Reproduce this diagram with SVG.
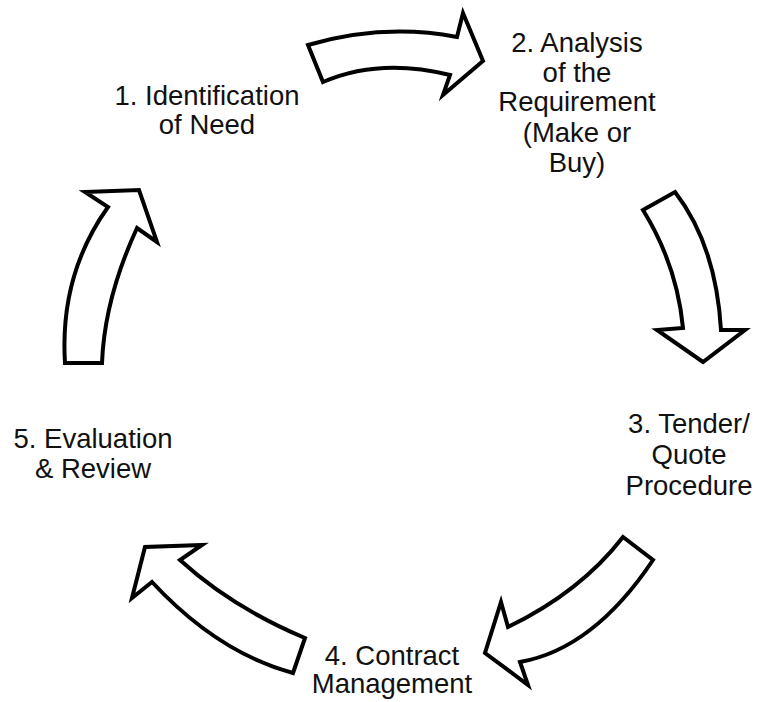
<svg xmlns="http://www.w3.org/2000/svg" width="760" height="702" viewBox="0 0 760 702">
  <style>
    .label { font-family: "Liberation Sans", Arial, sans-serif; font-size: 27.5px; fill: #111; text-anchor: middle; }
    .arrow { fill: #fff; stroke: #000; stroke-width: 4; stroke-linejoin: miter; stroke-miterlimit: 10; }
  </style>
  <rect width="760" height="702" fill="#fff"/>

  <!-- curved block arrows between the stages -->
  <g id="connectors">
    <path class="arrow" d="M308,45 Q383.5,23 457,37 L463,13 L483,61 L443,95 L450,75 Q379.5,57.5 323,82 Z"/>
    <path class="arrow" d="M675,192 Q716,245 721,330 L745,330 L703,362 L657,330 L683,328 Q677,265 643,210 Z"/>
    <path class="arrow" d="M623,537 Q580.5,592 508,627 L501,602 L485,653 L528,685 L520,662 Q593.5,649 653,560 Z"/>
    <path class="arrow" d="M305,638 Q231.5,607 180,560 L202,545 L145,547 L132,598 L152,582 Q217.5,652.5 293,673 Z"/>
    <path class="arrow" d="M65,363 Q59.5,275 108,207 L85,192 L139,190 L157,242 L137,228 Q104.5,298.5 102,363 Z"/>
  </g>

  <g id="stage1">
    <text class="label" x="207" y="105">1. Identification</text>
    <text class="label" x="207" y="134">of Need</text>
  </g>
  <g id="stage2">
    <text class="label" x="577" y="52">2. Analysis</text>
    <text class="label" x="577" y="82">of the</text>
    <text class="label" x="577" y="111">Requirement</text>
    <text class="label" x="577" y="142">(Make or</text>
    <text class="label" x="577" y="172">Buy)</text>
  </g>
  <g id="stage3">
    <text class="label" x="689" y="433">3. Tender/</text>
    <text class="label" x="689" y="464">Quote</text>
    <text class="label" x="689" y="495">Procedure</text>
  </g>
  <g id="stage4">
    <text class="label" x="392" y="665">4. Contract</text>
    <text class="label" x="392" y="693">Management</text>
  </g>
  <g id="stage5">
    <text class="label" x="93" y="448">5. Evaluation</text>
    <text class="label" x="93" y="478">&amp; Review</text>
  </g>
</svg>
